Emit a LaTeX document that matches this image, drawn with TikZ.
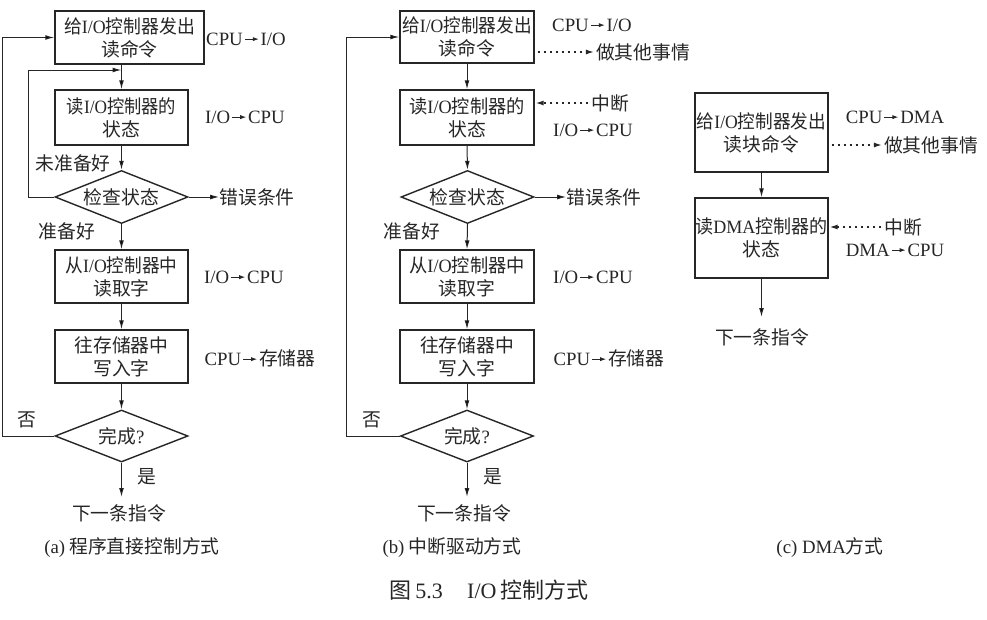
\documentclass[tikz,border=0pt]{standalone}
\usepackage{fontspec}
\usepackage{graphicx}
\setmainfont{Noto Sans CJK SC}
\newfontfamily\latinfont{Liberation Serif}
\newcommand\lt[1]{{\latinfont #1}}
\newcommand\sqz[2]{\scalebox{#1}[1]{#2}}
\usetikzlibrary{arrows.meta,shapes.geometric}
% small inline arrow used in the transfer labels
\newcommand\xfer{\kern1.5pt\tikz[baseline=-6pt,x=1pt,y=1pt]
  \draw[draw=black!85,line width=0.9pt,-{Latex[length=6pt,width=4.2pt]}] (0,0)--(14,0);\kern1.5pt}
\begin{document}
\begin{tikzpicture}[x=1pt,y=-1pt,
  every node/.style={font=\fontsize{18.8}{23}\selectfont, text=black!85},
  stepbox/.style={draw=black!85, line width=1.4pt, rectangle, inner sep=0pt, align=center},
  decision/.style={draw=black!85, diamond, aspect=2.5, inner sep=0pt, line width=1.4pt,
                   minimum width=133pt, minimum height=53pt},
  arr/.style={draw=black!85, line width=1pt, -{Latex[length=9pt,width=4.8pt]}},
  dotarr/.style={draw=black!85, line width=1.8pt, dash pattern=on 1.8pt off 4.2pt,
                 -{Latex[length=9pt,width=5pt]}},
  lbl/.style={inner sep=0pt},
  captext/.style={inner sep=0pt},
]
\fill[white] (0,0) rectangle (987,619);
\useasboundingbox (0,0) rectangle (987,619);

% ---------- (a) programmed I/O ----------
\node[stepbox, minimum width=149pt, minimum height=53pt] (a1) at (129.5,37.5)
  {\sqz{0.95}{给\lt{I/O}控制器发出}\\读命令};
\node[stepbox, minimum width=133pt, minimum height=55pt] (a2) at (121.5,117.5)
  {\sqz{0.92}{读\lt{I/O}控制器的}\\状态};
\node[decision] (ad1) at (121.5,197) {检查状态};
\node[stepbox, minimum width=133pt, minimum height=53pt] (a3) at (121.5,276.5)
  {\sqz{0.94}{从\lt{I/O}控制器中}\\读取字};
\node[stepbox, minimum width=133pt, minimum height=53pt] (a4) at (121.5,356.5)
  {往存储器中\\写入字};
\node[decision, minimum height=52pt] (ad2) at (121.5,436) {完成\lt{?}};
\coordinate (ja) at (121.5,70);
\coordinate (aend) at (121.5,497);

\node[lbl] (al1) at (246,39) {\lt{CPU\xfer I/O}};
\node[lbl] (al2) at (245,117) {\lt{I/O\xfer CPU}};
\node[lbl] (anr) at (73,163) {未准备好};
\node[lbl] (aerr) at (257,197) {错误条件};
\node[lbl] (ard) at (67,231) {准备好};
\node[lbl] (al3) at (244,277) {\lt{I/O\xfer CPU}};
\node[lbl] (al4) at (260,358) {\lt{CPU\xfer}存储器};
\node[lbl] (ano) at (27,420) {否};
\node[lbl] (ayes) at (147,477) {是};
\node[lbl] (anext) at (119,513) {下一条指令};
\node[captext] (acap) at (132,548) {\lt{(a)} 程序直接控制方式};

\draw[arr] (a2.north |- a1.south) -- (a2.north);
\draw[arr] (a2.south) -- (ad1.north);
\draw[arr] (ad1.south) -- (a3.north);
\draw[arr] (a3.south) -- (a4.north);
\draw[arr] (a4.south) -- (ad2.north);
\draw[arr] (ad2.south) -- (aend);
\draw[arr] (ad1.east) -- (aerr.west);
\draw[arr] (ad1.west) -- ++(-26,0) |- (ja);
\draw[arr] (ad2.west) -- ++(-52,0) |- (a1.west);

% ---------- (b) interrupt driven ----------
\node[stepbox, minimum width=134pt, minimum height=52pt] (b1) at (467,37)
  {\sqz{0.94}{给\lt{I/O}控制器发出}\\读命令};
\node[stepbox, minimum width=134pt, minimum height=55pt] (b2) at (467,117.5)
  {\sqz{0.97}{读\lt{I/O}控制器的}\\状态};
\node[decision] (bd1) at (467.5,197) {检查状态};
\node[stepbox, minimum width=134pt, minimum height=53pt] (b3) at (467,276.5)
  {\sqz{0.97}{从\lt{I/O}控制器中}\\读取字};
\node[stepbox, minimum width=134pt, minimum height=53pt] (b4) at (467,356.5)
  {往存储器中\\写入字};
\node[decision, minimum height=52pt] (bd2) at (467,436) {完成\lt{?}};
\coordinate (bend) at (467,497);

\node[lbl] (bl1) at (592,25) {\lt{CPU\xfer I/O}};
\node[lbl] (bother) at (643,52) {做其他事情};
\node[lbl] (bint) at (610,103) {中断};
\node[lbl] (bl2) at (593,130) {\lt{I/O\xfer CPU}};
\node[lbl] (berr) at (604,197) {错误条件};
\node[lbl] (brd) at (412,231) {准备好};
\node[lbl] (bl3) at (593,277) {\lt{I/O\xfer CPU}};
\node[lbl] (bl4) at (609,358) {\lt{CPU\xfer}存储器};
\node[lbl] (bno) at (372,420) {否};
\node[lbl] (byes) at (493,477) {是};
\node[lbl] (bnext) at (464,513) {下一条指令};
\node[captext] (bcap) at (452,548) {\lt{(b)} 中断驱动方式};

\draw[arr] (b1.south) -- (b2.north);
\draw[arr] (b2.south) -- (bd1.north);
\draw[arr] (bd1.south) -- (b3.north);
\draw[arr] (b3.south) -- (b4.north);
\draw[arr] (b4.south) -- (bd2.north);
\draw[arr] (bd2.south) -- (bend);
\draw[arr] (bd1.east) -- (berr.west);
\draw[arr] (bd2.west) -- ++(-53,0) |- (b1.west);
\draw[dotarr] ([xshift=3pt]b1.east |- bother.west) -- ([xshift=-1pt]bother.west);
\draw[dotarr] ([xshift=-3pt]bint.west) -- (b2.east |- bint.west);

% ---------- (c) DMA ----------
\node[stepbox, minimum width=133pt, minimum height=79pt] (c1) at (761.5,132.5)
  {\sqz{0.94}{给\lt{I/O}控制器发出}\\读块命令};
\node[stepbox, minimum width=133pt, minimum height=80pt] (c2) at (761.5,238)
  {\sqz{0.96}{读\lt{DMA}控制器的}\\状态};
\coordinate (cend) at (761.5,317);

\node[lbl] (cl1) at (895,117) {\lt{CPU\xfer DMA}};
\node[lbl] (cother) at (931,145) {做其他事情};
\node[lbl] (cint) at (903,227) {中断};
\node[lbl] (cl2) at (895,250) {\lt{DMA\xfer CPU}};
\node[lbl] (cnext) at (762,337) {下一条指令};
\node[captext] (ccap) at (830,548) {\lt{(c) DMA}方式};

\draw[arr] (c1.south) -- (c2.north);
\draw[arr] (c2.south) -- (cend);
\draw[dotarr] ([xshift=3pt]c1.east |- cother.west) -- ([xshift=-1pt]cother.west);
\draw[dotarr] ([xshift=-3pt]cint.west) -- (c2.east |- cint.west);

% ---------- caption ----------
\node[inner sep=0pt, font=\fontsize{22}{25}\selectfont] (title) at (489,590)
  {图\,\lt{5.3}\hspace{1.1em}\lt{I/O}\,控制方式};
\end{tikzpicture}
\end{document}
